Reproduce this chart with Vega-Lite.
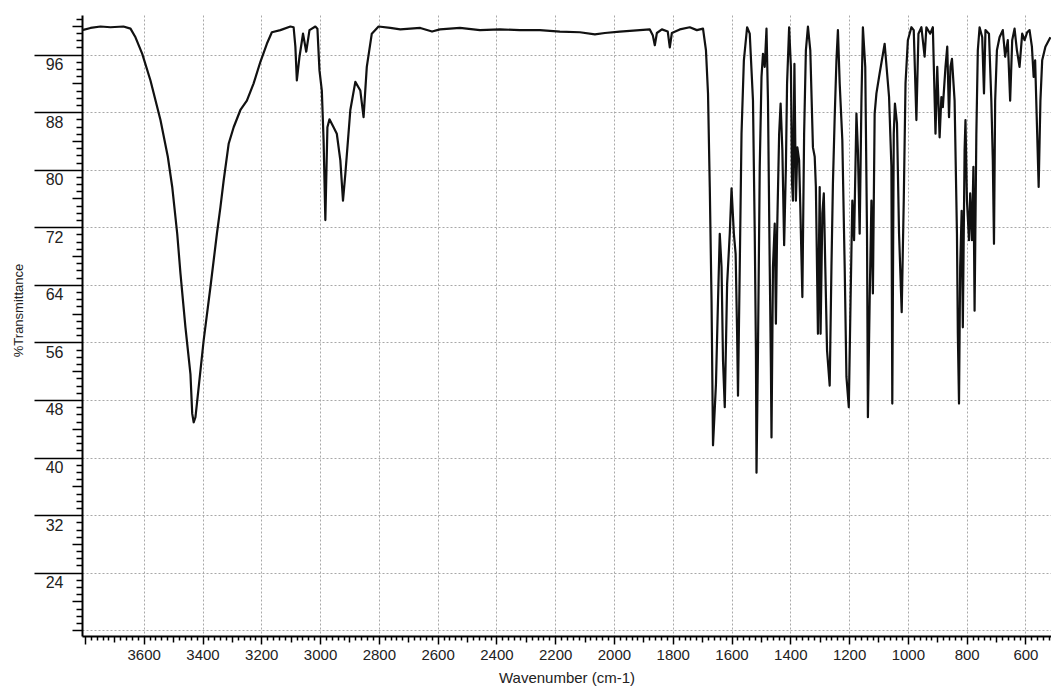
{
  "$schema": "https://vega.github.io/schema/vega-lite/v6.json",
  "width": 969,
  "height": 621,
  "autosize": {"type": "none"},
  "padding": {"left": 82, "top": 15, "right": 0, "bottom": 51},
  "background": "white",
  "config": {
    "view": {"stroke": null},
    "font": "Liberation Sans"
  },
  "data": {
    "values": [
      {"v":3809,"t":99.4},{"v":3781,"t":99.7},{"v":3747,"t":99.9},{"v":3713,"t":99.8},{"v":3669,"t":99.9},{"v":3645,"t":99.6},{"v":3628,"t":98.4},{"v":3605,"t":96.1},{"v":3577,"t":92.4},{"v":3543,"t":86.9},{"v":3518,"t":81.8},{"v":3503,"t":77.6},{"v":3486,"t":71.1},{"v":3475,"t":65.6},{"v":3458,"t":58.1},{"v":3441,"t":51.6},{"v":3435,"t":46.1},{"v":3430,"t":44.9},{"v":3424,"t":45.6},{"v":3413,"t":49.8},{"v":3396,"t":56.3},{"v":3373,"t":63.7},{"v":3351,"t":71.1},{"v":3339,"t":74.8},{"v":3328,"t":78.5},{"v":3311,"t":83.6},{"v":3294,"t":85.9},{"v":3271,"t":88.3},{"v":3249,"t":89.6},{"v":3226,"t":92.0},{"v":3203,"t":95.0},{"v":3181,"t":97.5},{"v":3164,"t":99.1},{"v":3135,"t":99.4},{"v":3101,"t":99.9},{"v":3090,"t":99.8},{"v":3084,"t":97.1},{"v":3079,"t":92.4},{"v":3070,"t":95.7},{"v":3058,"t":98.9},{"v":3047,"t":96.4},{"v":3036,"t":99.4},{"v":3016,"t":99.9},{"v":3009,"t":99.6},{"v":3002,"t":93.8},{"v":2994,"t":91.0},{"v":2988,"t":84.1},{"v":2982,"t":73.0},{"v":2975,"t":85.9},{"v":2968,"t":87.0},{"v":2954,"t":85.9},{"v":2943,"t":85.0},{"v":2931,"t":81.3},{"v":2922,"t":75.7},{"v":2914,"t":79.4},{"v":2897,"t":88.3},{"v":2880,"t":92.2},{"v":2863,"t":91.0},{"v":2852,"t":87.3},{"v":2841,"t":94.3},{"v":2824,"t":98.9},{"v":2801,"t":99.9},
      {"v":2761,"t":99.7},{"v":2727,"t":99.5},{"v":2659,"t":99.7},{"v":2619,"t":99.2},{"v":2592,"t":99.5},{"v":2524,"t":99.7},{"v":2456,"t":99.4},{"v":2388,"t":99.5},{"v":2320,"t":99.4},{"v":2252,"t":99.4},{"v":2184,"t":99.2},{"v":2116,"t":99.1},{"v":2065,"t":98.8},{"v":2031,"t":99.0},{"v":1980,"t":99.2},{"v":1912,"t":99.4},{"v":1878,"t":99.5},{"v":1868,"t":98.7},{"v":1861,"t":97.3},{"v":1854,"t":99.0},{"v":1837,"t":99.5},{"v":1817,"t":99.2},{"v":1810,"t":97.0},{"v":1803,"t":99.0},{"v":1776,"t":99.5},{"v":1742,"t":99.8},{"v":1718,"t":99.4},{"v":1697,"t":99.6},
      {"v":1687,"t":96.6},{"v":1680,"t":90.6},{"v":1674,"t":77.6},{"v":1668,"t":61.8},{"v":1663,"t":41.7},{"v":1653,"t":50.2},{"v":1646,"t":61.8},{"v":1640,"t":71.1},{"v":1634,"t":66.5},{"v":1629,"t":53.5},{"v":1623,"t":47.0},{"v":1615,"t":64.1},{"v":1606,"t":71.1},{"v":1600,"t":77.4},{"v":1592,"t":71.1},{"v":1586,"t":68.3},{"v":1581,"t":57.2},{"v":1578,"t":48.6},{"v":1572,"t":66.5},{"v":1566,"t":85.0},{"v":1558,"t":95.2},{"v":1547,"t":99.8},{"v":1538,"t":98.9},{"v":1527,"t":89.6},{"v":1521,"t":71.1},{"v":1517,"t":54.9},{"v":1515,"t":37.9},{"v":1510,"t":54.9},{"v":1504,"t":80.4},{"v":1498,"t":92.9},{"v":1493,"t":96.1},{"v":1487,"t":94.3},{"v":1481,"t":99.6},{"v":1476,"t":89.6},{"v":1470,"t":66.5},{"v":1466,"t":52.5},{"v":1464,"t":42.8},{"v":1459,"t":66.5},{"v":1453,"t":72.5},{"v":1449,"t":58.6},{"v":1445,"t":71.1},{"v":1438,"t":85.0},{"v":1433,"t":89.2},{"v":1427,"t":82.7},{"v":1421,"t":69.5},{"v":1415,"t":80.4},{"v":1411,"t":92.0},{"v":1404,"t":99.8},{"v":1398,"t":94.3},{"v":1394,"t":78.1},{"v":1391,"t":75.7},{"v":1386,"t":94.7},{"v":1381,"t":75.7},{"v":1376,"t":83.1},{"v":1370,"t":81.3},{"v":1366,"t":74.8},{"v":1359,"t":62.3},{"v":1353,"t":85.0},{"v":1347,"t":96.6},{"v":1340,"t":99.9},{"v":1332,"t":96.6},{"v":1323,"t":83.1},{"v":1317,"t":81.8},{"v":1313,"t":77.6},{"v":1306,"t":57.2},{"v":1300,"t":77.6},{"v":1297,"t":57.2},{"v":1291,"t":73.9},{"v":1286,"t":76.7},{"v":1281,"t":66.5},{"v":1275,"t":54.9},{"v":1266,"t":50.0},{"v":1260,"t":66.5},{"v":1255,"t":78.1},{"v":1249,"t":87.3},{"v":1243,"t":95.2},{"v":1238,"t":99.4},{"v":1232,"t":92.0},{"v":1223,"t":84.1},{"v":1215,"t":66.5},{"v":1209,"t":51.2},{"v":1201,"t":47.0},{"v":1195,"t":61.8},{"v":1189,"t":75.7},{"v":1183,"t":70.2},{"v":1175,"t":87.8},{"v":1170,"t":82.7},{"v":1164,"t":71.1},{"v":1158,"t":89.6},{"v":1153,"t":99.8},{"v":1145,"t":94.3},{"v":1139,"t":71.1},{"v":1136,"t":45.6},{"v":1130,"t":61.8},{"v":1124,"t":75.7},{"v":1119,"t":62.8},{"v":1113,"t":87.8},{"v":1107,"t":90.6},{"v":1096,"t":93.4},{"v":1079,"t":97.5},{"v":1064,"t":90.1},{"v":1056,"t":80.4},{"v":1053,"t":47.5},{"v":1048,"t":85.0},{"v":1044,"t":89.2},{"v":1037,"t":86.4},{"v":1030,"t":71.1},{"v":1021,"t":60.2},{"v":1014,"t":75.7},{"v":1008,"t":92.0},{"v":1000,"t":98.0},{"v":988,"t":99.8},{"v":980,"t":99.4},{"v":971,"t":86.9},{"v":964,"t":98.9},{"v":954,"t":99.8},{"v":943,"t":95.7},{"v":937,"t":99.8},{"v":924,"t":98.9},{"v":915,"t":99.8},{"v":906,"t":85.0},{"v":900,"t":94.3},{"v":892,"t":84.5},{"v":886,"t":90.1},{"v":881,"t":88.7},{"v":872,"t":94.3},{"v":866,"t":97.1},{"v":860,"t":87.3},{"v":855,"t":94.3},{"v":850,"t":95.4},{"v":841,"t":89.6},{"v":833,"t":71.1},{"v":830,"t":57.2},{"v":826,"t":47.5},{"v":822,"t":66.5},{"v":817,"t":74.3},{"v":813,"t":58.1},{"v":807,"t":82.7},{"v":804,"t":86.9},{"v":799,"t":75.7},{"v":792,"t":70.2},{"v":788,"t":76.7},{"v":782,"t":70.2},{"v":777,"t":80.4},{"v":773,"t":60.4},{"v":767,"t":85.0},{"v":762,"t":96.6},{"v":756,"t":99.8},{"v":747,"t":98.4},{"v":741,"t":90.6},{"v":736,"t":99.4},{"v":724,"t":98.9},{"v":716,"t":89.6},{"v":711,"t":81.3},{"v":707,"t":69.7},{"v":703,"t":89.6},{"v":697,"t":96.6},{"v":688,"t":98.4},{"v":677,"t":99.4},{"v":669,"t":95.7},{"v":660,"t":98.0},{"v":652,"t":89.6},{"v":645,"t":98.0},{"v":637,"t":99.6},{"v":629,"t":96.6},{"v":620,"t":94.3},{"v":611,"t":98.9},{"v":603,"t":98.0},{"v":594,"t":99.1},{"v":586,"t":99.4},{"v":578,"t":97.1},{"v":572,"t":92.9},{"v":567,"t":95.2},{"v":560,"t":85.0},{"v":555,"t":77.6},{"v":549,"t":89.6},{"v":543,"t":95.2},{"v":532,"t":97.1},{"v":515,"t":98.4}
    ]
  },
  "mark": {"type": "line", "color": "#111111", "strokeWidth": 2.2, "clip": true, "strokeJoin": "round"},
  "encoding": {
    "x": {
      "field": "v",
      "type": "quantitative",
      "scale": {"domain": [3810, 513], "nice": false, "zero": false},
      "axis": {
        "title": "Wavenumber (cm-1)",
        "titleFont": "Liberation Sans",
        "titleFontSize": 15,
        "titleFontWeight": "normal",
        "titleColor": "#222222",
        "titleY": 46,
        "titleBaseline": "alphabetic",
        "format": "d",
        "values": [3800,3780,3760,3740,3720,3700,3680,3660,3640,3620,3600,3580,3560,3540,3520,3500,3480,3460,3440,3420,3400,3380,3360,3340,3320,3300,3280,3260,3240,3220,3200,3180,3160,3140,3120,3100,3080,3060,3040,3020,3000,2980,2960,2940,2920,2900,2880,2860,2840,2820,2800,2780,2760,2740,2720,2700,2680,2660,2640,2620,2600,2580,2560,2540,2520,2500,2480,2460,2440,2420,2400,2380,2360,2340,2320,2300,2280,2260,2240,2220,2200,2180,2160,2140,2120,2100,2080,2060,2040,2020,2000,1980,1960,1940,1920,1900,1880,1860,1840,1820,1800,1780,1760,1740,1720,1700,1680,1660,1640,1620,1600,1580,1560,1540,1520,1500,1480,1460,1440,1420,1400,1380,1360,1340,1320,1300,1280,1260,1240,1220,1200,1180,1160,1140,1120,1100,1080,1060,1040,1020,1000,980,960,940,920,900,880,860,840,820,800,780,760,740,720,700,680,660,640,620,600,580,560,540,520],
        "labelExpr": "datum.value % 200 === 0 && datum.value < 3800 ? datum.label : ''",
        "labelOverlap": false,
        "labelFlush": false,
        "labelFont": "Liberation Sans",
        "labelFontSize": 15,
        "labelColor": "#222222",
        "labelPadding": 3,
        "domainColor": "#000000",
        "domainWidth": 2,
        "tickColor": "#000000",
        "tickWidth": 1.5,
        "tickSize": {"condition": [{"test": "datum.value % 200 === 0", "value": 8}, {"test": "datum.value % 100 === 0", "value": 6}], "value": 4},
        "grid": true,
        "gridColor": "#a8a8a8",
        "gridDash": [2, 2],
        "gridWidth": 1,
        "gridOpacity": {"condition": {"test": "datum.value % 200 === 0 && datum.value <= 3600", "value": 1}, "value": 0}
      }
    },
    "y": {
      "field": "t",
      "type": "quantitative",
      "scale": {"domain": [15.2, 101.5], "nice": false, "zero": false},
      "axis": {
        "title": "%Transmittance",
        "titleFont": "Liberation Sans",
        "titleFontSize": 13,
        "titleFontWeight": "normal",
        "titleColor": "#222222",
        "titleAngle": -90,
        "titleX": -64,
        "titleY": 295,
        "titleBaseline": "middle",
        "titleAlign": "center",
        "format": "d",
        "values": [16,17,18,19,20,21,22,23,24,25,26,27,28,29,30,31,32,33,34,35,36,37,38,39,40,41,42,43,44,45,46,47,48,49,50,51,52,53,54,55,56,57,58,59,60,61,62,63,64,65,66,67,68,69,70,71,72,73,74,75,76,77,78,79,80,81,82,83,84,85,86,87,88,89,90,91,92,93,94,95,96,97,98,99,100,101],
        "labelExpr": "datum.value % 8 === 0 && datum.value >= 24 && datum.value <= 96 ? datum.label : ''",
        "labelOverlap": false,
        "labelFlush": false,
        "labelFont": "Liberation Sans",
        "labelFontSize": 16,
        "labelColor": "#222222",
        "labelAlign": "right",
        "labelBaseline": "top",
        "labelOffset": 2,
        "labelPadding": -29,
        "domainColor": "#000000",
        "domainWidth": 2,
        "tickColor": "#000000",
        "tickWidth": 1.5,
        "tickSize": {"condition": [{"test": "datum.value % 8 === 0 && datum.value >= 24", "value": 48}, {"test": "datum.value % 4 === 0", "value": 10}], "value": 6},
        "grid": true,
        "gridColor": "#a8a8a8",
        "gridDash": [2, 2],
        "gridWidth": 1,
        "gridOpacity": {"condition": {"test": "datum.value % 8 === 0", "value": 1}, "value": 0}
      }
    }
  }
}
